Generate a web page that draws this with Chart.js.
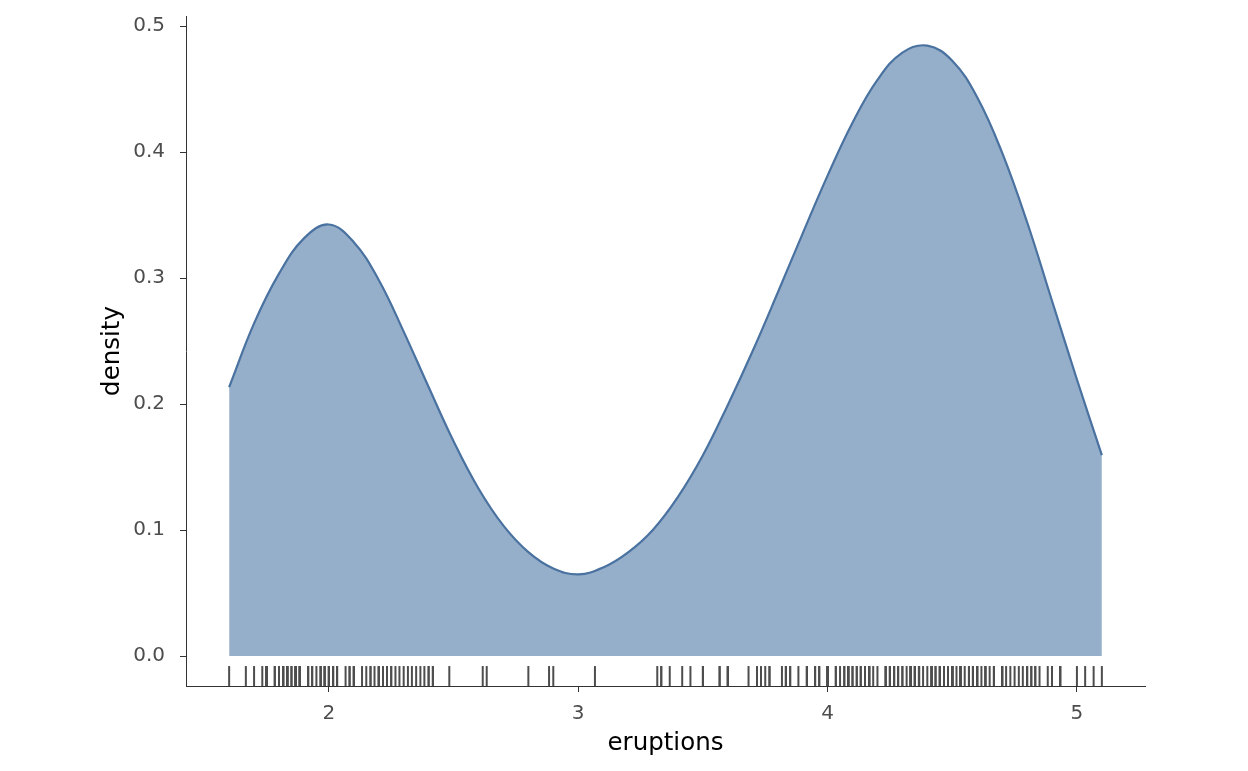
<!DOCTYPE html>
<html lang="en">
<head>
  <meta charset="UTF-8" />
  <title>Density of eruptions</title>
  <script src="https://cdn.jsdelivr.net/npm/chart.js"></script>
  <style>
    body { margin: 0; background: #ffffff; }
    #wrap { width: 1248px; height: 771px; position: relative; }
  </style>
</head>
<body>
  <div id="wrap"><canvas id="chart"></canvas></div>

  <script>
    // density curve (every 0.1)
    const densX = [1.6, 1.7, 1.8, 1.9, 2.0, 2.1, 2.2, 2.3, 2.4, 2.5, 2.6, 2.7, 2.8, 2.9, 3.0,
                   3.1, 3.2, 3.3, 3.4, 3.5, 3.6, 3.7, 3.8, 3.9, 4.0, 4.1, 4.2, 4.3, 4.4,
                   4.5, 4.6, 4.7, 4.8, 4.9, 5.0, 5.1];
    const densY = [0.2135, 0.2640, 0.3035, 0.3315, 0.3425, 0.3285, 0.2985, 0.2575, 0.2135, 0.1705, 0.1330, 0.1035, 0.0825, 0.0695, 0.0648,
                   0.0703, 0.0823, 0.1003, 0.1263, 0.1593, 0.1993, 0.2423, 0.2883, 0.3353, 0.3813, 0.4233, 0.4573, 0.4790, 0.4845,
                   0.4725, 0.4435, 0.3995, 0.3445, 0.2820, 0.2195, 0.1595];

    // rug marks (eruption durations)
    const rugEruptions = [
      3.600, 1.800, 3.333, 2.283, 4.533, 2.883, 4.700, 3.600, 1.950, 4.350, 1.833, 3.917, 4.200, 1.750, 4.700, 2.167,
      1.750, 4.800, 1.600, 4.250, 1.800, 1.750, 3.450, 3.067, 4.533, 3.600, 1.967, 4.083, 3.850, 4.433, 4.300, 4.467,
      3.367, 4.033, 3.833, 2.017, 1.867, 4.833, 1.833, 4.783, 4.350, 1.883, 4.567, 1.750, 4.533, 3.317, 3.833, 2.100,
      4.633, 2.000, 4.800, 4.716, 1.833, 4.833, 1.733, 4.883, 3.717, 1.667, 4.567, 4.317, 2.233, 4.500, 1.750, 4.800,
      1.817, 4.400, 4.167, 4.700, 2.067, 4.700, 4.033, 1.967, 4.500, 4.000, 1.983, 5.067, 2.017, 4.567, 3.883, 3.600,
      4.133, 4.333, 4.100, 2.633, 4.067, 4.933, 3.950, 4.517, 2.167, 4.000, 2.200, 4.333, 1.867, 4.817, 1.833, 4.300,
      4.667, 3.750, 1.867, 4.900, 2.483, 4.367, 2.100, 4.500, 4.050, 1.867, 4.700, 1.783, 4.850, 3.683, 4.733, 2.300,
      4.900, 4.417, 1.700, 4.633, 2.317, 4.600, 1.817, 4.417, 2.617, 4.067, 4.250, 1.967, 4.600, 3.767, 1.917, 4.500,
      2.267, 4.650, 1.867, 4.167, 2.800, 4.333, 1.833, 4.383, 1.883, 4.933, 2.033, 3.733, 4.233, 2.233, 4.533, 4.817,
      4.333, 1.983, 4.633, 2.017, 5.100, 1.800, 5.033, 4.000, 2.400, 4.600, 3.567, 4.000, 4.500, 4.083, 1.800, 3.967,
      2.200, 4.150, 2.000, 3.833, 3.500, 4.583, 2.367, 5.000, 1.933, 4.617, 1.917, 2.083, 4.583, 3.333, 4.167, 4.333,
      4.500, 2.417, 4.000, 4.167, 1.883, 4.583, 4.250, 3.767, 2.033, 4.433, 4.083, 1.833, 4.417, 2.183, 4.800, 1.833,
      4.800, 4.100, 3.966, 4.233, 3.500, 4.366, 2.250, 4.667, 2.100, 4.350, 4.133, 1.867, 4.600, 1.783, 4.367, 3.850,
      1.933, 4.500, 2.383, 4.700, 1.867, 3.833, 3.417, 4.233, 2.400, 4.800, 2.000, 4.150, 1.867, 4.267, 1.750, 4.483,
      4.000, 4.117, 4.083, 4.267, 3.917, 4.550, 4.083, 2.417, 4.183, 2.217, 4.450, 1.883, 1.850, 4.283, 3.950, 2.333,
      4.150, 2.350, 4.933, 2.900, 4.583, 3.833, 2.083, 4.367, 2.133, 4.350, 2.200, 4.450, 3.567, 4.500, 4.150, 3.817,
      3.917, 4.450, 2.000, 4.283, 4.767, 4.533, 1.850, 4.250, 1.983, 2.250, 4.750, 4.117, 2.150, 4.417, 1.817, 4.467
    ];

    const xTicks = [2, 3, 4, 5];
    const yTicks = [0.0, 0.1, 0.2, 0.3, 0.4, 0.5];

    const tickFont = { family: 'DejaVu Sans', size: 20 };
    const titleFont = { family: 'DejaVu Sans', size: 24.5 };

    const ctx = document.getElementById('chart').getContext('2d');
    new Chart(ctx, {
      type: 'line',
      data: {
        datasets: [
          {
            label: 'density',
            data: densX.map((x, i) => ({ x: x, y: densY[i] })),
            borderColor: '#4a72a0',
            backgroundColor: '#95aec9',
            borderWidth: 2.2,
            fill: 'origin',
            pointRadius: 0,
            tension: 0.4,
            order: 2
          },
          {
            label: 'rug',
            type: 'scatter',
            data: rugEruptions.map(x => ({ x: x, y: -0.0159 })),
            pointStyle: 'line',
            rotation: 90,
            radius: 10,
            borderColor: '#4d4d4d',
            borderWidth: 2,
            backgroundColor: '#4d4d4d',
            order: 1
          }
        ]
      },
      options: {
        responsive: true,
        maintainAspectRatio: false,
        animation: false,
        layout: { padding: { top: 16, right: 103, left: 0, bottom: 0 } },
        plugins: {
          legend: { display: false },
          tooltip: { enabled: false }
        },
        scales: {
          x: {
            type: 'linear',
            min: 1.427,
            max: 5.273,
            afterBuildTicks: s => { s.ticks = xTicks.map(v => ({ value: v })); },
            afterFit: s => { s.height = 85; },
            grid: { drawOnChartArea: false, drawTicks: true, tickLength: 6, color: '#333333' },
            border: { display: true, color: '#333333', width: 1 },
            ticks: {
              color: '#4d4d4d',
              font: tickFont,
              padding: 10,
              maxRotation: 0,
              callback: v => String(v)
            },
            title: { display: true, text: 'eruptions', color: '#000000', font: titleFont, padding: { top: 0, bottom: 13 } }
          },
          y: {
            min: -0.0238,
            max: 0.508,
            afterBuildTicks: s => { s.ticks = yTicks.map(v => ({ value: v })); },
            afterFit: s => { s.width = 186; s.paddingTop = 0; s.paddingBottom = 0; },
            grid: { drawOnChartArea: false, drawTicks: true, tickLength: 6, color: '#333333' },
            border: { display: true, color: '#333333', width: 1 },
            ticks: {
              color: '#4d4d4d',
              font: tickFont,
              padding: 15,
              callback: v => v.toFixed(1)
            },
            title: { display: true, text: 'density', color: '#000000', font: titleFont, padding: { top: 98, bottom: 0 } }
          }
        }
      }
    });
  </script>
</body>
</html>
